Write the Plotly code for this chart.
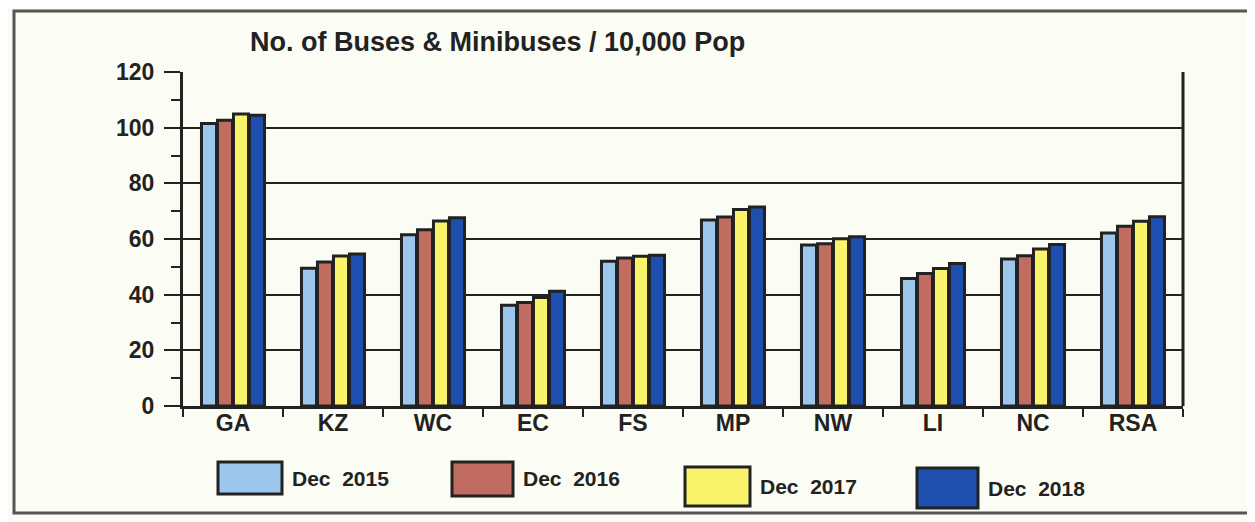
import plotly.graph_objects as go

# ---- data ----
categories = ["GA", "KZ", "WC", "EC", "FS", "MP", "NW", "LI", "NC", "RSA"]
series_names = ["Dec  2015", "Dec  2016", "Dec  2017", "Dec  2018"]
dec_2015 = [101.5, 49.5, 61.5, 36.2, 52.0, 66.8, 57.8, 45.8, 52.8, 62.2]
dec_2016 = [102.7, 51.7, 63.3, 37.2, 53.2, 67.9, 58.3, 47.6, 54.0, 64.6]
dec_2017 = [104.9, 53.9, 66.5, 39.0, 53.8, 70.6, 60.1, 49.4, 56.4, 66.4]
dec_2018 = [104.5, 54.6, 67.6, 41.2, 54.2, 71.5, 60.8, 51.2, 58.0, 68.0]
series_values = [dec_2015, dec_2016, dec_2017, dec_2018]
y_ticks = [0, 20, 40, 60, 80, 100, 120]
title_text = "No. of Buses & Minibuses / 10,000 Pop"

# ---- style ----
colors = ["#9cc6ec", "#c06c60", "#f9f46c", "#1f4fae"]
W, H = 1255, 522
OFF = 8  # page body margin: figure pixel = screen pixel - OFF
PL, PR, PT, PB = 183, 1183, 72, 406  # plot area in screen pixels
ML, MR, MT, MB = PL - OFF, W - (PR - OFF), PT - OFF, H - (PB - OFF)
FONT = "Liberation Sans, Arial, sans-serif"
INK = "#222222"
BG = "#fbfcf4"

fig = go.Figure()
for name, vals, col in zip(series_names, series_values, colors):
    fig.add_trace(go.Bar(
        x=categories, y=vals, name=name,
        marker=dict(color=col, line=dict(color=INK, width=3)),
        showlegend=False,
    ))

pw = W - ML - MR
ph = H - MT - MB


def px(xs):
    return (xs - PL) / pw


def py(ys):
    return (PB - ys) / ph


shapes = []
annotations = []
# outer frame
shapes.append(dict(type="rect", xref="paper", yref="paper",
                   x0=px(14), x1=px(1250), y0=py(513), y1=py(11),
                   line=dict(color="#555555", width=3), fillcolor="rgba(0,0,0,0)",
                   layer="below"))
# custom legend with large swatches
legend_boxes = [(218, 282, 462, 494), (452, 513, 462, 496),
                (685, 750, 467, 506), (917, 978, 468, 508)]
for (x0, x1, y0, y1), name, col in zip(legend_boxes, series_names, colors):
    shapes.append(dict(type="rect", xref="paper", yref="paper",
                       x0=px(x0), x1=px(x1), y0=py(y1), y1=py(y0),
                       line=dict(color=INK, width=3), fillcolor=col))
    annotations.append(dict(xref="paper", yref="paper", x=px(x1 + 8),
                            y=py((y0 + y1) / 2), text=name, showarrow=False,
                            xanchor="left", yanchor="middle",
                            font=dict(family=FONT, size=21, color=INK, weight="bold")))

fig.update_layout(
    width=W, height=H,
    margin=dict(l=ML, r=MR, t=MT, b=MB, pad=0),
    paper_bgcolor=BG, plot_bgcolor=BG,
    barmode="group", bargap=0.36, bargroupgap=0.06,
    title=dict(text=title_text, xref="container", x=(250 - OFF) / W, xanchor="left",
               yref="container", y=1 - (42 - OFF) / H, yanchor="middle",
               font=dict(family=FONT, size=27, color=INK, weight="bold")),
    shapes=shapes, annotations=annotations,
    showlegend=False,
)
fig.update_yaxes(
    range=[0, 120], tickvals=y_ticks, ticktext=[str(v) for v in y_ticks],
    automargin=False,
    showgrid=True, gridcolor=INK, gridwidth=1.5,
    showline=True, linecolor=INK, linewidth=3, mirror=False,
    ticks="outside", ticklen=16, tickwidth=2, tickcolor=INK,
    minor=dict(dtick=10, ticks="outside", ticklen=9, tickwidth=2, tickcolor=INK, showgrid=False),
    ticklabelstandoff=5,
    tickfont=dict(family=FONT, size=23, color=INK, weight="bold"),
    zeroline=False,
)
fig.update_xaxes(
    automargin=False,
    showline=True, linecolor=INK, linewidth=3,
    ticks="outside", tickson="boundaries", ticklen=8, tickwidth=2, tickcolor=INK,
    ticklabelstandoff=-6,
    tickfont=dict(family=FONT, size=23, color=INK, weight="bold"),
    showgrid=False,
)
# right border of plot area
fig.add_shape(type="line", xref="paper", yref="paper", x0=1, x1=1, y0=0, y1=1,
              line=dict(color=INK, width=3))

fig.write_html("out.html")
